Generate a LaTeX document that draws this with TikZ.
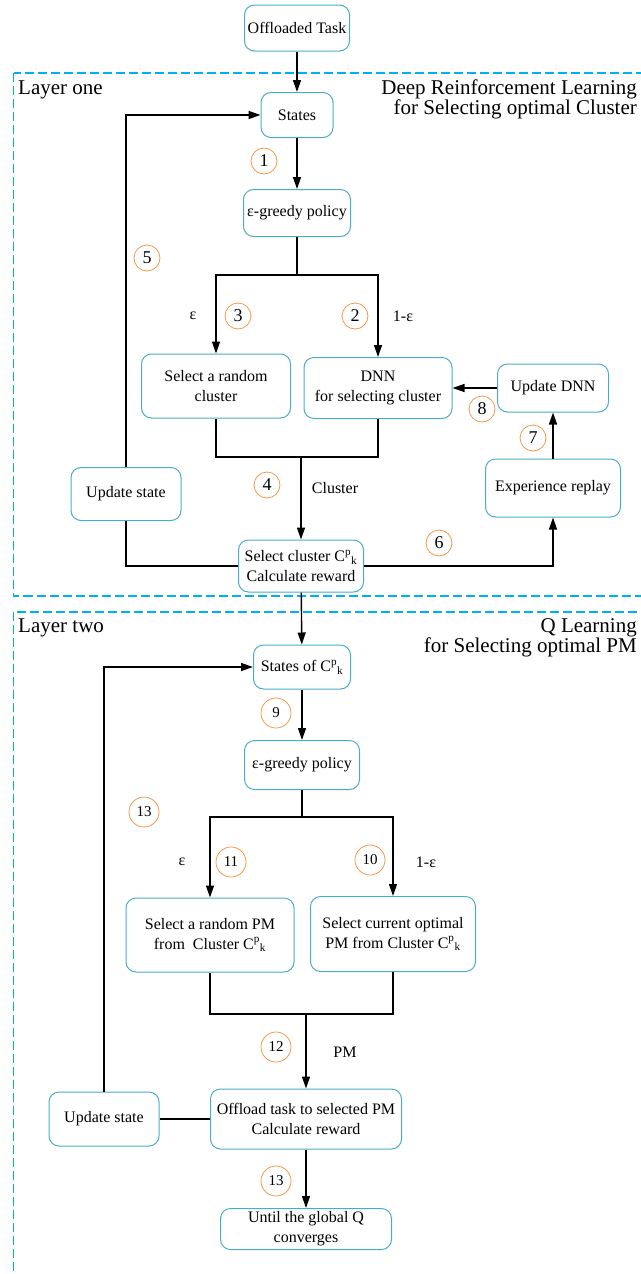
\documentclass[tikz,border=0pt]{standalone}
\usepackage{fontspec}
\setmainfont{Liberation Serif}
\usetikzlibrary{arrows.meta}

\definecolor{boxline}{RGB}{75,172,198}
\definecolor{framecol}{RGB}{0,176,240}
\definecolor{numline}{RGB}{247,150,70}

\newcommand{\Cpk}{C\textsuperscript{p}\textsubscript{k}}

\tikzset{
  procbox/.style={draw=boxline, line width=1pt, rounded corners=10pt, align=center,
    inner sep=2pt, font=\fontsize{16}{20}\selectfont},
  stepnum/.style={circle, draw=numline, line width=0.8pt, minimum size=26pt,
    inner sep=0pt, font=\fontsize{18}{18}\selectfont},
  stepnumb/.style={stepnum, minimum size=30pt, font=\fontsize{15}{15}\selectfont},
  flow/.style={-{Triangle[length=12pt,width=8pt]}, line width=1.4pt},
  link/.style={line width=1.4pt},
  layerframe/.style={draw=framecol, dash pattern=on 9pt off 4pt, line width=1.2pt},
  edgetext/.style={font=\fontsize{16}{16}\selectfont},
  layertext/.style={inner sep=0pt, font=\fontsize{21}{20}\selectfont}
}

\begin{document}
\begin{tikzpicture}[x=1pt,y=-1pt]
\useasboundingbox (0,0) rectangle (640,1274);

% layer frames
\draw[layerframe] (13.5,73) rectangle (690,596);
\draw[layerframe] (13.5,612) rectangle (690,1300);
\node[layertext, anchor=base west] (l1name) at (18,94) {Layer one};
\node[layertext, anchor=north east, align=right] (l1title) at (637,80) {Deep Reinforcement Learning\\for Selecting optimal Cluster};
\node[layertext, anchor=base west] (l2name) at (18,632) {Layer two};
\node[layertext, anchor=north east, align=right] (l2title) at (637,618) {Q Learning\\for Selecting optimal PM};

% layer one
\node[procbox, minimum width=105pt, minimum height=46pt] (task) at (297,28) {Offloaded Task};
\node[procbox, minimum width=72pt, minimum height=45pt] (states) at (297,115) {States};
\node[procbox, minimum width=107pt, minimum height=47pt] (greedy1) at (297,213) {ε-greedy policy};
\node[procbox, minimum width=149pt, minimum height=64pt] (randcl) at (216,386) {Select a random\\cluster};
\node[procbox, minimum width=148pt, minimum height=61pt] (dnn) at (378,388) {DNN\\for selecting cluster};
\node[procbox, minimum width=111pt, minimum height=48pt] (updn) at (553,388) {Update DNN};
\node[procbox, minimum width=135pt, minimum height=58pt] (exprep) at (553,488) {Experience replay};
\node[procbox, minimum width=110pt, minimum height=53pt] (upst1) at (126,494) {Update state};
\node[procbox, minimum width=125pt, minimum height=52pt] (selcl) at (301,566) {Select cluster \Cpk\\Calculate reward};

\coordinate (split1) at (297,275);
\coordinate (merge1) at (301,457);

\draw[flow] (task) -- (states);
\draw[flow] (states) -- (greedy1);
\draw[link] (greedy1) -- (split1);
\draw[flow] (split1) -| (randcl);
\draw[flow] (split1) -| (dnn);
\draw[link] (randcl) |- (merge1);
\draw[link] (dnn) |- (merge1);
\draw[flow] (merge1) -- (selcl);
\draw[flow] (updn) -- (dnn);
\draw[flow] (exprep) -- (updn);
\draw[flow] (selcl.east) -| (exprep);
\draw[link] (selcl.west) -| (upst1);
\draw[flow] (upst1) |- (states);

\node[edgetext] (eps1) at (193,316) {ε};
\node[edgetext] (omeps1) at (403,316) {1-ε};
\node[edgetext] (cllbl) at (335,488) {Cluster};

\node[stepnum] (n1) at (264,161) {1};
\node[stepnum] (n2) at (355,316) {2};
\node[stepnum] (n3) at (238,316) {3};
\node[stepnum] (n4) at (267,485) {4};
\node[stepnum] (n5) at (147,258) {5};
\node[stepnum] (n6) at (439,543) {6};
\node[stepnum] (n7) at (533,438) {7};
\node[stepnum] (n8) at (482,409) {8};

% layer two
\node[procbox, minimum width=97pt, minimum height=44pt] (statesC) at (302,667) {States of \Cpk};
\node[procbox, minimum width=115pt, minimum height=49pt] (greedy2) at (302,765) {ε-greedy policy};
\node[procbox, minimum width=168pt, minimum height=74pt] (randpm) at (210,935) {Select a random PM\\from~ Cluster \Cpk};
\node[procbox, minimum width=165pt, minimum height=75pt] (optpm) at (393,934) {Select current optimal\\PM from Cluster \Cpk};
\node[procbox, minimum width=191pt, minimum height=60pt] (offload) at (306,1119) {Offload task to selected PM\\Calculate reward};
\node[procbox, minimum width=110pt, minimum height=54pt] (upst2) at (104,1119) {Update state};
\node[procbox, minimum width=171pt, minimum height=41pt] (until) at (306,1229) {Until the global Q\\converges};

\coordinate (split2) at (302,817);
\coordinate (merge2) at (306,1014);

\draw[flow] (selcl) -- (statesC);
\draw[flow] (statesC) -- (greedy2);
\draw[link] (greedy2) -- (split2);
\draw[flow] (split2) -| (randpm);
\draw[flow] (split2) -| (optpm);
\draw[link] (randpm) |- (merge2);
\draw[link] (optpm) |- (merge2);
\draw[flow] (merge2) -- (offload);
\draw[link] (upst2) -- (offload);
\draw[flow] (upst2) |- (statesC);
\draw[flow] (offload) -- (until);

\node[edgetext] (eps2) at (182,862) {ε};
\node[edgetext] (omeps2) at (426,862) {1-ε};
\node[edgetext] (pmlbl) at (345,1052) {PM};

\node[stepnumb] (n9) at (276,713) {9};
\node[stepnumb] (n10) at (370,860) {10};
\node[stepnumb] (n11) at (231,862) {11};
\node[stepnumb] (n12) at (276,1047) {12};
\node[stepnumb] (n13a) at (144,812) {13};
\node[stepnumb] (n13b) at (276,1181) {13};

\end{tikzpicture}
\end{document}
